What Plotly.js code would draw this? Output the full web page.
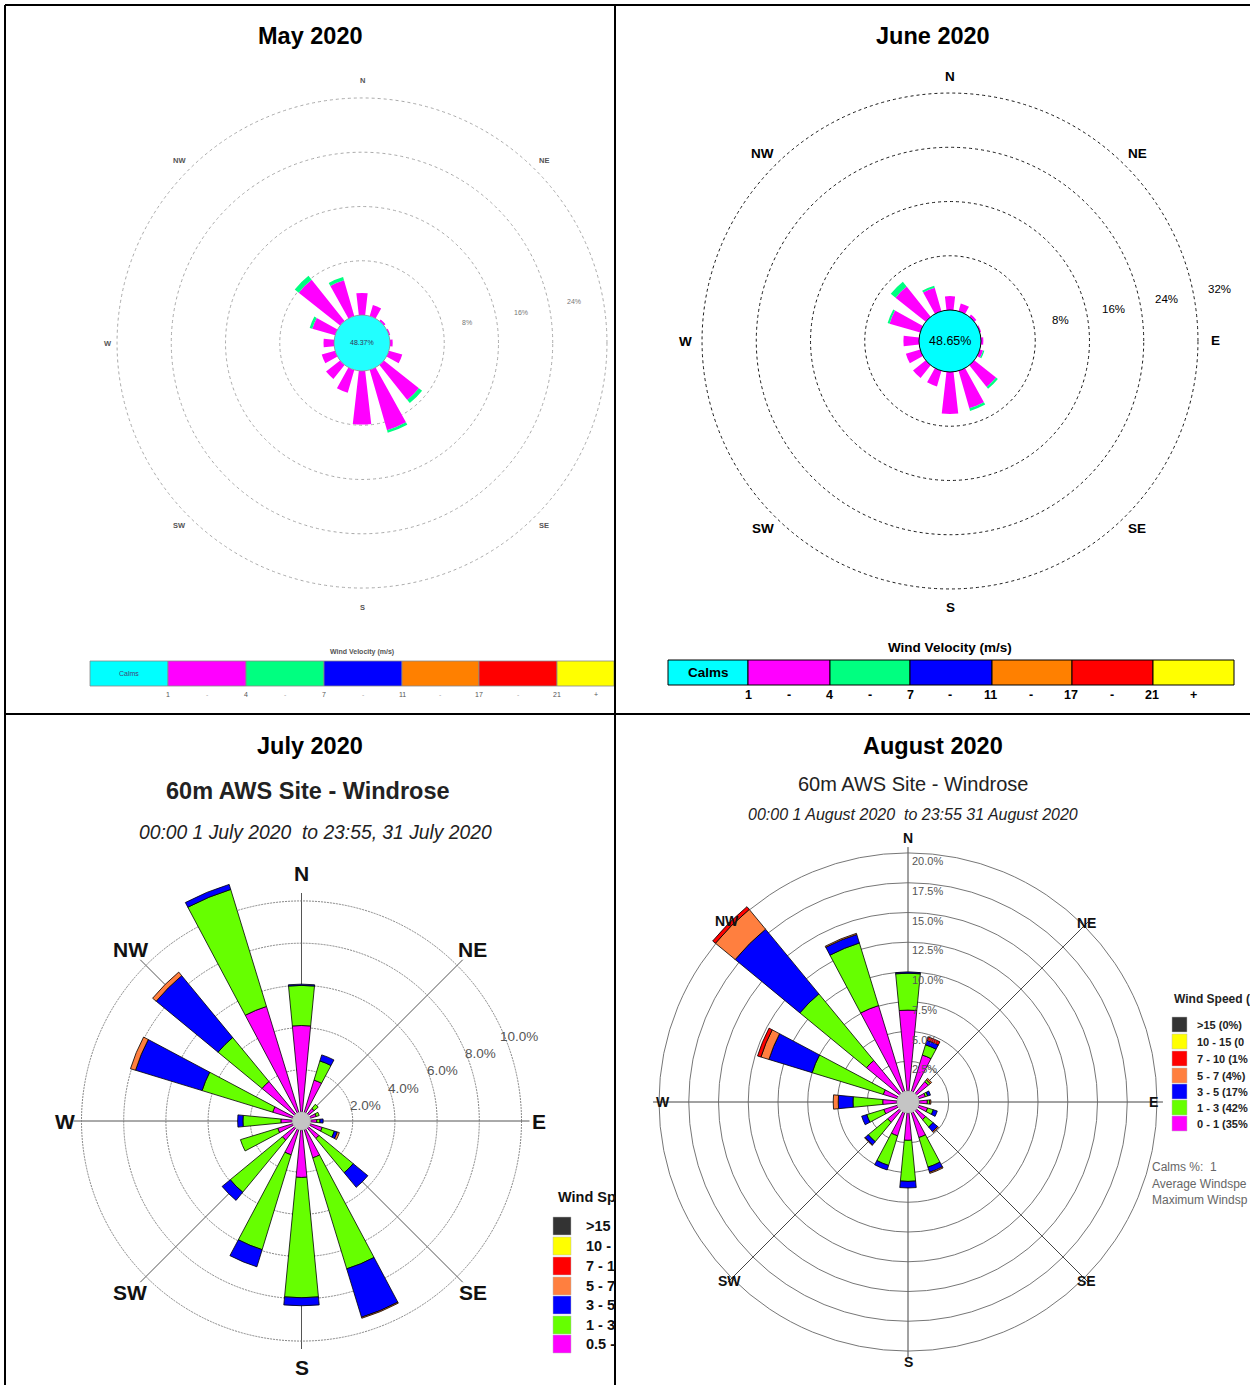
<!DOCTYPE html>
<html><head><meta charset="utf-8">
<script src="https://cdn.plot.ly/plotly-3.0.1.min.js"></script>
<style>html,body{margin:0;padding:0;background:#fff;overflow:hidden}#chart{width:1250px;height:1385px}</style>
</head><body><div id="chart"></div>
<script>
const W = 1250, H = 1385;
const FONT = 'Arial, "Liberation Sans", sans-serif';

// 16 wind directions (degrees, clockwise from N)
const directions = [0,22.5,45,67.5,90,112.5,135,157.5,180,202.5,225,247.5,270,292.5,315,337.5];
const compass = ['N','NE','E','SE','S','SW','W','NW'];
const compassBearing = [0,45,90,135,180,225,270,315];

// ---- May 2020 (% of time) ----
const may_1_4 = [3.25,1.7,0.3,0.2,0.4,2.05,6.6,9.25,7.9,3.5,2.65,2.05,1.55,3.5,7.8,5.5];
const may_4_7 = [0,0,0,0,0,0,0.6,0.4,0,0,0,0,0,0.4,0.75,0.5];
const may_calms = '48.37%';
const may_rings = [8,16,24,32];
const may_ring_labels = ['8%','16%','24%'];

// ---- June 2020 ----
const jun_1_4 = [2.05,1.2,0.4,0.2,0.35,0.5,4.1,5.75,6.2,2.4,2.4,2.2,2.3,4.7,5.7,3.6];
const jun_4_7 = [0,0,0,0,0,0.2,0.35,0.4,0,0,0,0,0,0.3,0.9,0.3];
const jun_calms = '48.65%';
const jun_rings = [8,16,24,32];
const jun_ring_labels = ['8%','16%','24%','32%'];

// velocity legend (May / June)
const vel_classes = ['Calms','1-4','4-7','7-11','11-17','17-21','21+'];
const vel_ticks = ['1','4','7','11','17','21','+'];

// ---- July 2020 ----
const jul_05_1 = [4.1,1.6,0.35,0.3,0.3,0.6,0.65,1.4,2.25,1.25,0.75,0.75,0.55,1.0,2.0,5.25];
const jul_1_3  = [1.9,0.95,0.25,0.15,0.15,0.6,2.1,5.5,5.7,4.7,3.2,1.85,1.8,3.5,2.7,5.8];
const jul_3_5  = [0.06,0.3,0,0,0.15,0.15,0.9,2.4,0.38,0.85,0.5,0,0.25,3.3,3.8,0.25];
const jul_5_7  = [0,0,0,0,0,0.1,0,0.05,0,0,0,0,0,0.25,0.22,0];
const jul_rings = [2,4,6,8,10];
const jul_ring_labels = ['2.0%','4.0%','6.0%','8.0%','10.0%'];
const jul_legend = ['>15','10 -','7 - 1','5 - 7','3 - 5','1 - 3','0.5 -'];

// ---- August 2020 ----
const aug_0_1  = [6.8,3.2,1.3,0.6,0.7,0.8,1.0,2.2,2.3,2.05,1.3,1.2,1.2,1.25,3.6,7.55];
const aug_1_3  = [3.1,0.9,0.2,0.2,0.2,0.5,0.8,2.6,3.45,2.6,2.1,1.5,2.5,6.25,7.25,5.5];
const aug_3_5  = [0.1,0.4,0,0.25,0,0.35,0.5,0.45,0.55,0.4,0.35,0.45,1.24,3.8,7.05,0.75];
const aug_5_7  = [0,0,0.15,0,0.1,0,0.1,0.1,0,0,0.05,0,0.42,0.7,2.15,0.1];
const aug_7_10 = [0,0.3,0,0,0,0,0,0,0,0,0,0,0,0.3,0.3,0];
const aug_rings = [2.5,5,7.5,10,12.5,15,17.5,20];
const aug_ring_labels = ['2.5%','5.0%','7.5%','10.0%','12.5%','15.0%','17.5%','20.0%'];
const aug_legend_title = 'Wind Speed (';
const aug_legend = ['>15 (0%)','10 - 15 (0','7 - 10 (1%','5 - 7 (4%)','3 - 5 (17%','1 - 3 (42%','0 - 1 (35%'];
const aug_notes = ['Calms %:  1','Average Windspe','Maximum Windsp'];

// colours
const velColors = ['#00FFFF','#FF00FF','#00FF80','#0000FF','#FF8000','#FF0000','#FFFF00'];
const spdColors = ['#333333','#FFFF00','#FF0000','#FF7F3F','#0000FF','#66FF00','#FF00FF'];
const C_MAG = '#FF00FF', C_GRN = '#66FF00', C_BLU = '#0000FF', C_ORA = '#FF7F3F', C_RED = '#FF0000';

// panel geometry (pixels)
const G = {
  may: {cx:362,  cy:343,  hole:28, scale:6.78, rmax:32.3},
  jun: {cx:950,  cy:341,  hole:31, scale:6.78, rmax:32.3},
  jul: {cx:301.5,cy:1121, hole:9,  scale:21.1, rmax:11.5},
  aug: {cx:908,  cy:1102, hole:11, scale:11.9, rmax:20.5}
};
const X = px => px / W, Y = py => 1 - py / H;
const Rpx = g => g.hole + g.scale * g.rmax;
function dom(g){ const r = Rpx(g); return {x:[X(g.cx - r), X(g.cx + r)], y:[Y(g.cy + r), Y(g.cy - r)]}; }
function polarCfg(g, o){
  const r = Rpx(g);
  return {
    domain: dom(g), hole: g.hole / r, bgcolor: 'rgba(0,0,0,0)', barmode: 'stack',
    radialaxis: {range:[0, g.rmax], tickmode:'array', tickvals:o.rings, showticklabels:false, ticks:'',
      showline:false, gridcolor:o.ringColor, griddash:o.ringDash, gridwidth:o.ringWidth},
    angularaxis: {rotation:90, direction:'clockwise', tickmode:'array', tickvals:compassBearing,
      showticklabels:false, ticks:'', showline:false, showgrid:o.spokes, gridcolor:o.spokeColor || '#444', gridwidth:1}
  };
}

const traces = [];
function bars(sub, arrs, colors, width, line){
  arrs.forEach((a, i) => traces.push({type:'barpolar', subplot:sub, r:a, theta:directions, width:width,
    marker:{color:colors[i], line:line}, hoverinfo:'skip', showlegend:false}));
}
bars('polar',  [may_1_4, may_4_7], [velColors[1], velColors[2]], 13, {width:0});
bars('polar2', [jun_1_4, jun_4_7], [velColors[1], velColors[2]], 13, {width:0});
bars('polar3', [jul_05_1, jul_1_3, jul_3_5, jul_5_7], [C_MAG, C_GRN, C_BLU, C_ORA], 11, {color:'#000', width:0.8});
bars('polar4', [aug_0_1, aug_1_3, aug_3_5, aug_5_7, aug_7_10], [C_MAG, C_GRN, C_BLU, C_ORA, C_RED], 11, {color:'#000', width:0.8});

const annotations = [], shapes = [];
function txt(x, y, text, size, o){
  o = o || {};
  annotations.push({xref:'paper', yref:'paper', x:X(x), y:Y(y), text:text, showarrow:false,
    xanchor:o.xa || 'center', yanchor:'middle', font:{family:FONT, size:size, color:o.color || '#000'}});
}
function rect(x0, y0, x1, y1, fill, line, lw){
  shapes.push({type:'rect', xref:'paper', yref:'paper', x0:X(x0), x1:X(x1), y0:Y(y1), y1:Y(y0),
    fillcolor:fill, line:{color:line, width:lw}});
}
function circ(g, fill, line, lw){
  const h = g.hole;
  shapes.push({type:'circle', xref:'paper', yref:'paper', x0:X(g.cx - h), x1:X(g.cx + h), y0:Y(g.cy + h), y1:Y(g.cy - h),
    fillcolor:fill, line:{color:line, width:lw}});
}
function lineS(x0, y0, x1, y1, w, color, layer){
  shapes.push({type:'line', xref:'paper', yref:'paper', x0:X(x0), x1:X(x1), y0:Y(y0), y1:Y(y1),
    line:{color:color || '#000', width:w}, layer:layer || 'above'});
}
function spokes(g, len, color){
  [0,45,90,135].forEach(b => {
    const a = b * Math.PI / 180, dx = len * Math.sin(a), dy = len * Math.cos(a);
    lineS(g.cx - dx, g.cy + dy, g.cx + dx, g.cy - dy, 1, color, 'below');
  });
}
function compassLabels(g, radii, size, color, skip){
  compass.forEach((c, i) => {
    if (skip && skip.indexOf(c) >= 0) return;
    const b = compassBearing[i] * Math.PI / 180, r = radii[i];
    txt(g.cx + r * Math.sin(b), g.cy - r * Math.cos(b), '<b>' + c + '</b>', size, {color:color});
  });
}
function ringLabels(g, vals, labels, bearing, dr, dx, dy, size, color, xa){
  const b = bearing * Math.PI / 180;
  labels.forEach((lab, i) => {
    const r = g.hole + g.scale * vals[i] + dr;
    txt(g.cx + r * Math.sin(b) + dx, g.cy - r * Math.cos(b) + dy, lab, size, {color:color, xa:xa});
  });
}

// ---- titles ----
txt(310, 36, '<b>May 2020</b>', 23.5);
txt(933, 36, '<b>June 2020</b>', 23.5);
txt(310, 746, '<b>July 2020</b>', 23.5);
txt(933, 746, '<b>August 2020</b>', 23.5);
txt(308, 791, '<b>60m AWS Site - Windrose</b>', 23.5, {color:'#222'});
txt(315, 832, '<i>00:00 1 July 2020  to 23:55, 31 July 2020</i>', 19.3, {color:'#222'});
txt(913, 784, '60m AWS Site - Windrose', 20, {color:'#222'});
txt(913, 814, '<i>00:00 1 August 2020  to 23:55 31 August 2020</i>', 16, {color:'#222'});

// ---- May ----
circ(G.may, '#22FFFF', '#888', 0.8);
txt(G.may.cx, G.may.cy, may_calms, 7, {color:'#335'});
compassLabels(G.may, [263,258,263,258,264,258,254,258], 7.5, '#555', ['E']);
ringLabels(G.may, may_rings, may_ring_labels, 79, 25, 0, 0, 7, '#777');
const mayEdges = [90,168,246,324,402,479,557,614];
for (let i = 0; i < 7; i++) rect(mayEdges[i], 661, mayEdges[i+1], 686, velColors[i], '#888', 0.8);
txt(129, 673, vel_classes[0], 7, {color:'#447'});
txt(362, 652, '<b>Wind Velocity (m/s)</b>', 7, {color:'#555'});
const mayTickX = [168,246,324,402,479,557,596];
vel_ticks.forEach((t, i) => txt(mayTickX[i], 694, t, 7, {color:'#555'}));
for (let i = 0; i < 5; i++) txt((mayTickX[i] + mayTickX[i+1]) / 2, 694, '-', 7, {color:'#aaa'});

// ---- June ----
circ(G.jun, '#00FFFF', '#000', 1);
txt(G.jun.cx, G.jun.cy, jun_calms, 12.5);
compassLabels(G.jun, [265,265,265,265,266,265,265,265], 13.5, '#000');
ringLabels(G.jun, jun_rings, jun_ring_labels, 79, 27, 0, 0, 11.5, '#000');
const junEdges = [668,748,830,910,992,1072,1153,1234];
for (let i = 0; i < 7; i++) rect(junEdges[i], 660, junEdges[i+1], 685, velColors[i], '#000', 1);
txt(708, 672, '<b>' + vel_classes[0] + '</b>', 13.5);
txt(950, 647, '<b>Wind Velocity (m/s)</b>', 13.5);
const junTickX = [748,829,910,990,1071,1152,1193];
vel_ticks.forEach((t, i) => txt(junTickX[i], 695, '<b>' + t + '</b>', 12.5));
for (let i = 0; i < 5; i++) txt((junTickX[i] + junTickX[i+1]) / 2, 695, '<b>-</b>', 12.5);

// ---- July ----
spokes(G.jul, 228, '#555');
circ(G.jul, '#C4C4C4', '#aaa', 0.8);
compassLabels(G.jul, [248,242,237,242,246,242,237,242], 21, '#111');
ringLabels(G.jul, jul_rings, jul_ring_labels, 66, 0, 17, 5, 13.5, '#555');
txt(556, 1197, '<b>Wind Sp</b>', 14.5, {xa:'left', color:'#111'});
const julRowY = [1217,1237,1257,1277,1296,1316,1335];
julRowY.forEach((y, i) => {
  rect(553, y, 571, y + 18, spdColors[i], '#bbb', 0.5);
  txt(584, y + 9, '<b>' + jul_legend[i] + '</b>', 14.5, {xa:'left', color:'#111'});
});

// ---- August ----
circ(G.aug, '#C4C4C4', '#aaa', 0.8);
compassLabels(G.aug, [264,253,245,253,260,253,245,256], 14, '#111');
ringLabels(G.aug, aug_rings, aug_ring_labels, 0, 0, 2, 8, 11, '#555', 'left');
txt(1172, 999, '<b>' + aug_legend_title + '</b>', 12, {xa:'left', color:'#222'});
const augRowY = [1017,1034,1051,1068,1084,1100,1116];
augRowY.forEach((y, i) => {
  rect(1172, y, 1187, y + 15, spdColors[i], '#bbb', 0.5);
  txt(1195, y + 7.5, '<b>' + aug_legend[i] + '</b>', 11, {xa:'left', color:'#222'});
});
aug_notes.forEach((t, i) => txt(1150, 1167 + i * 16.5, t, 12, {xa:'left', color:'#666'}));

// ---- panel borders ----
lineS(5, 5, 1250, 5, 2);
lineS(5, 5, 5, 1385, 2);
lineS(5, 714, 1250, 714, 2);
lineS(615, 5, 615, 1385, 2);

const layout = {
  width: W, height: H, margin: {l:0, r:0, t:0, b:0},
  paper_bgcolor: '#fff', plot_bgcolor: '#fff', showlegend: false,
  font: {family: FONT},
  polar:  polarCfg(G.may, {rings:may_rings, ringColor:'#aaa', ringDash:'dot', ringWidth:1, spokes:false}),
  polar2: polarCfg(G.jun, {rings:jun_rings, ringColor:'#000', ringDash:'3px,3px', ringWidth:0.9, spokes:false}),
  polar3: polarCfg(G.jul, {rings:jul_rings, ringColor:'#777', ringDash:'2px,1px', ringWidth:0.9, spokes:false}),
  polar4: polarCfg(G.aug, {rings:aug_rings, ringColor:'#666', ringDash:'solid', ringWidth:0.9, spokes:true, spokeColor:'#444'}),
  annotations: annotations, shapes: shapes
};
Plotly.newPlot('chart', traces, layout, {displayModeBar:false, staticPlot:true});
</script></body></html>
